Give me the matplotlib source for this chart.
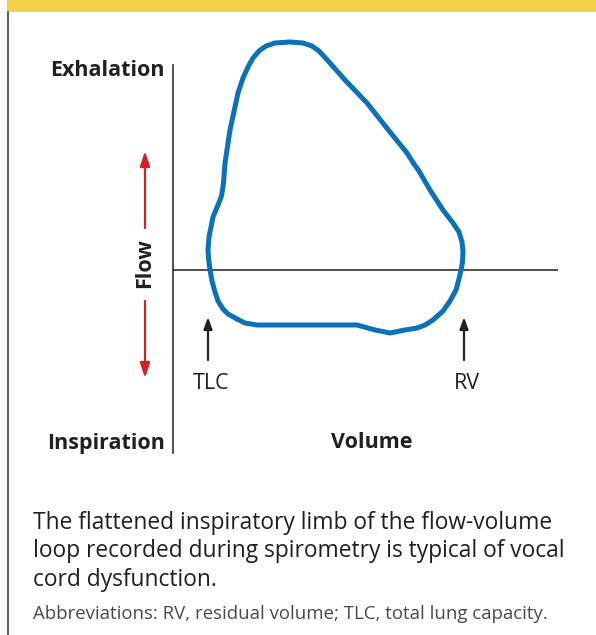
import matplotlib
matplotlib.use('Agg')
import matplotlib.pyplot as plt
from matplotlib.patches import Rectangle

plt.rcParams['font.family'] = ['Open Sans', 'DejaVu Sans']

# flow-volume loop, traced clockwise from the TLC crossing
# volume (arbitrary units), flow (positive = exhalation)
volume = [0.74, 0.71, 0.70, 0.72, 0.80, 0.90, 0.97, 1.01, 1.04, 1.14,
          1.30, 1.40, 1.50, 1.60, 1.72, 1.86, 2.04, 2.34, 2.60, 2.78,
          2.92, 3.14, 3.44, 3.88, 4.34, 4.68, 4.82, 4.92, 5.14, 5.40,
          5.60, 5.72, 5.78, 5.80, 5.79, 5.76, 5.72, 5.66, 5.54, 5.40,
          5.20, 5.04, 4.88, 4.64, 4.34, 4.04, 3.68, 3.14, 2.40, 1.68,
          1.44, 1.28, 1.10, 1.00, 0.90, 0.84, 0.78, 0.74]
flow = [0.00, 0.24, 0.40, 0.66, 1.06, 1.30, 1.48, 1.74, 2.14, 2.80,
        3.54, 3.84, 4.06, 4.24, 4.38, 4.48, 4.54, 4.56, 4.54, 4.48,
        4.38, 4.14, 3.80, 3.34, 2.76, 2.34, 2.12, 1.98, 1.60, 1.20,
        0.94, 0.76, 0.56, 0.36, 0.16, 0.00, -0.18, -0.40, -0.62, -0.82,
        -1.00, -1.10, -1.16, -1.20, -1.26, -1.20, -1.10, -1.10, -1.10, -1.10,
        -1.06, -0.98, -0.88, -0.78, -0.62, -0.44, -0.22, 0.00]

tlc_vol = 0.70
rv_vol = 5.82

fig = plt.figure(figsize=(5.96, 6.35), dpi=100)

# page overlay in pixel units
bg = fig.add_axes([0, 0, 1, 1])
bg.set_xlim(0, 596)
bg.set_ylim(635, 0)
bg.axis('off')
bg.add_patch(Rectangle((7, 0), 589, 11.5, color='#f3d04a', lw=0))
bg.plot([7.5, 7.5], [12, 635], color='#333333', lw=1.1)

bg.text(165, 71, 'Exhalation', ha='right', va='center', fontsize=15.5,
        fontweight='bold', color='#231f20')
bg.text(165, 443, 'Inspiration', ha='right', va='center', fontsize=15.5,
        fontweight='bold', color='#231f20')
bg.text(372, 443, 'Volume', ha='center', va='center', fontsize=15.5,
        fontweight='bold', color='#231f20')
bg.text(145, 263, 'Flow', ha='center', va='center', rotation=90,
        fontsize=15.5, fontweight='bold', color='#231f20')

red = '#d71f2a'
bg.annotate('', xy=(145, 151), xytext=(145, 228),
            arrowprops=dict(arrowstyle='-|>,head_length=0.9,head_width=0.3',
                            color=red, lw=1.6, shrinkA=0, shrinkB=0))
bg.annotate('', xy=(145, 378), xytext=(145, 301),
            arrowprops=dict(arrowstyle='-|>,head_length=0.9,head_width=0.3',
                            color=red, lw=1.6, shrinkA=0, shrinkB=0))

caption = ('The flattened inspiratory limb of the flow-volume\n'
           'loop recorded during spirometry is typical of vocal\n'
           'cord dysfunction.')
bg.text(33, 511, caption, ha='left', va='top', fontsize=16.4,
        color='#231f20', linespacing=1.24)
bg.text(33, 614, 'Abbreviations: RV, residual volume; TLC, total lung capacity.',
        ha='left', va='center', fontsize=13.4, color='#4a4a4a')

# chart axes: x 173..558 px, y 65..453 px, 50 px per unit
ax = fig.add_axes([173 / 596, 1 - 453 / 635, 385 / 596, 388 / 635])
ax.set_xlim(0, 7.7)
ax.set_ylim(-3.66, 4.1)
ax.axis('off')
ax.patch.set_alpha(0)

ax.plot([0, 0], [-3.66, 4.1], color='#231f20', lw=1.1, clip_on=False)
ax.axhline(0, color='#231f20', lw=1.1)
ax.plot(volume, flow, color='#0b72ba', lw=3.6, solid_joinstyle='round',
        solid_capstyle='round', clip_on=False)

for v, lab in [(tlc_vol, 'TLC'), (rv_vol, 'RV')]:
    ax.annotate('', xy=(v, -0.94), xytext=(v, -1.80),
                arrowprops=dict(arrowstyle='-|>,head_length=0.7,head_width=0.25',
                                color='#231f20', lw=1.6, shrinkA=0, shrinkB=0))
    ax.text(v + 0.06, -2.28, lab, ha='center', va='center', fontsize=15.5,
            color='#231f20')

fig.savefig('out.png', dpi=100)
